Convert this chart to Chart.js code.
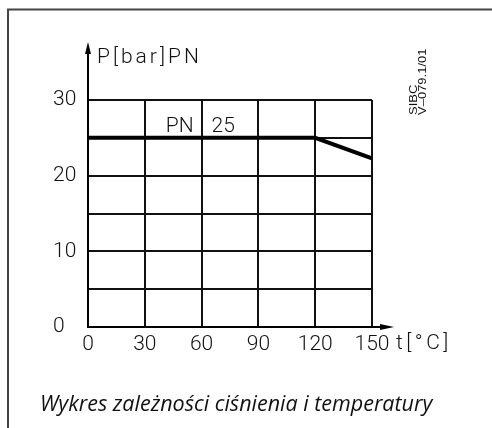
<!DOCTYPE html>
<html>
<head>
<meta charset="utf-8">
<script src="https://cdn.jsdelivr.net/npm/chart.js@4"></script>
<style>
body{margin:0;background:#fff}
#wrap{position:relative;width:492px;height:428px}
</style>
</head>
<body>
<div id="wrap"><canvas id="chart" width="492" height="428"></canvas></div>
<script>
const temps = [0, 120, 150]
const pressures = [25, 25, 22.3]
const xTicks = [0, 30, 60, 90, 120, 150]
const yTicks = [0, 10, 20, 30]

const tickFont = {family: "Roboto, 'DejaVu Sans', sans-serif", size: 21, weight: 300}
const lineFont = "300 21px Roboto, 'DejaVu Sans', sans-serif"

/* arrows, labels, frame */
const extras = {
  id: "extras",
  afterDraw(chart){
    const ctx = chart.ctx
    const x = chart.scales.x
    const y = chart.scales.y
    const x0 = x.getPixelForValue(0)
    const y0 = y.getPixelForValue(0)
    ctx.save()

    // frame
    ctx.strokeStyle = "#444"
    ctx.lineWidth = 2
    ctx.beginPath()
    ctx.moveTo(8, 428)
    ctx.lineTo(8, 9.5)
    ctx.lineTo(492, 9.5)
    ctx.stroke()

    // y arrow
    ctx.strokeStyle = "#000"
    ctx.fillStyle = "#000"
    ctx.lineWidth = 2
    ctx.beginPath()
    ctx.moveTo(x0, y0)
    ctx.lineTo(x0, 52)
    ctx.stroke()
    ctx.beginPath()
    ctx.moveTo(x0, 42)
    ctx.lineTo(x0 - 3, 54)
    ctx.lineTo(x0 + 3, 54)
    ctx.closePath()
    ctx.fill()

    // x arrow
    ctx.beginPath()
    ctx.moveTo(x0, y0)
    ctx.lineTo(384, y0)
    ctx.stroke()
    ctx.beginPath()
    ctx.moveTo(394, y0)
    ctx.lineTo(380, y0 - 3)
    ctx.lineTo(380, y0 + 3)
    ctx.closePath()
    ctx.fill()

    ctx.fillStyle = "#111"
    ctx.font = lineFont
    ctx.textBaseline = "middle"
    ctx.textAlign = "left"
    ctx.letterSpacing = "3px"
    ctx.fillText("P[bar]PN", 97, 58)
    ctx.letterSpacing = "3.5px"
    ctx.fillText("t[°C]", 396, 344)
    ctx.letterSpacing = "0px"

    ctx.textBaseline = "alphabetic"
    const y25 = y.getPixelForValue(25)
    const x60 = x.getPixelForValue(60)
    ctx.textAlign = "right"
    ctx.fillText("PN", x60 - 8, y25 - 6)
    ctx.textAlign = "left"
    ctx.fillText("25", x60 + 10, y25 - 6)

    // drawing id
    ctx.save()
    ctx.translate(417, 115)
    ctx.rotate(-Math.PI / 2)
    ctx.scale(1.3, 1)
    ctx.font = "10px 'Liberation Sans', Arial, sans-serif"
    ctx.textAlign = "left"
    ctx.textBaseline = "alphabetic"
    ctx.fillText("SIBC", 0, 0)
    ctx.fillText("V\u2013079.1/01", 0, 8.5)
    ctx.restore()

    // caption
    ctx.font = "italic 21.5px 'Open Sans', sans-serif"
    ctx.fillStyle = "#111"
    ctx.fillText("Wykres zależności ciśnienia i temperatury", 40, 411)
    ctx.restore()
  }
}

new Chart(document.getElementById("chart"), {
  type: "line",
  data: {
    datasets: [{
      data: temps.map((t, i) => ({x: t, y: pressures[i]})),
      borderColor: "#000",
      borderWidth: 4,
      pointRadius: 0,
      tension: 0
    }]
  },
  options: {
    responsive: false,
    animation: false,
    layout: {padding: {left: 53, top: 100, right: 120, bottom: 0}},
    plugins: {legend: {display: false}, tooltip: {enabled: false}},
    scales: {
      x: {
        type: "linear",
        min: 0,
        max: 150,
        afterBuildTicks(scale){
          scale.ticks = xTicks.map(v => ({value: v}))
        },
        afterFit(scale){ scale.height = 101 },
        grid: {color: "#111", lineWidth: 2, drawTicks: false},
        border: {color: "#000", width: 2},
        ticks: {
          font: tickFont,
          color: "#111",
          padding: 5,
          maxRotation: 0
        }
      },
      y: {
        min: 0,
        max: 30,
        ticks: {
          stepSize: 5,
          crossAlign: "far",
          font: tickFont,
          color: "#111",
          callback: v => yTicks.includes(v) ? String(v) : ""
        },
        afterFit(scale){ scale.width = 35 },
        grid: {color: "#111", lineWidth: 2, drawTicks: false},
        border: {color: "#000", width: 2}
      }
    }
  },
  plugins: [extras]
})
</script>
</body>
</html>
